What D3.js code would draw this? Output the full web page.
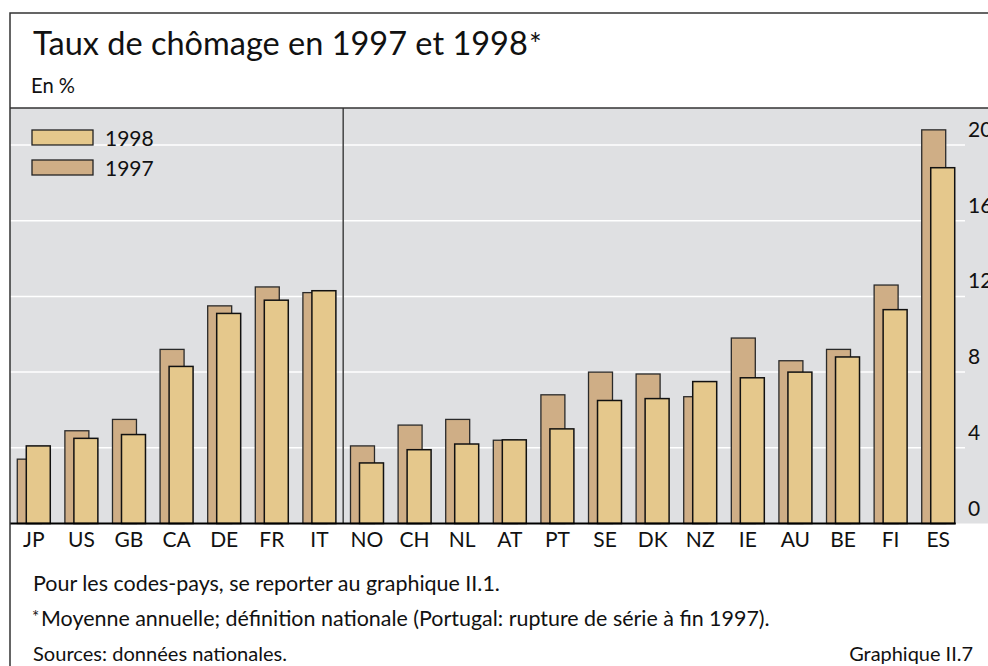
<!DOCTYPE html>
<html>
<head>
<meta charset="utf-8">
<script src="https://cdn.jsdelivr.net/npm/d3@7"></script>
<style>
  body { margin: 0; background: #fff; }
  svg { display: block; font-family: Lato, "Open Sans", sans-serif; }
</style>
</head>
<body>
<svg id="chart" width="988" height="666"></svg>
<script>
// données (taux de chômage, en %)
const countries = ["JP","US","GB","CA","DE","FR","IT","NO","CH","NL","AT","PT","SE","DK","NZ","IE","AU","BE","FI","ES"];
const values1997 = [3.4, 4.9, 5.5, 9.2, 11.5, 12.5, 12.2, 4.1, 5.2, 5.5, 4.4, 6.8, 8.0, 7.9, 6.7, 9.8, 8.6, 9.2, 12.6, 20.8];
const values1998 = [4.1, 4.5, 4.7, 8.3, 11.1, 11.8, 12.3, 3.2, 3.9, 4.2, 4.42, 5.0, 6.5, 6.6, 7.5, 7.7, 8.0, 8.8, 11.3, 18.8];
const yTicks = [0, 4, 8, 12, 16, 20];
const seriesNames = ["1998", "1997"];
const colors = { "1998": "#e5c88c", "1997": "#cfae86" };

const svg = d3.select("#chart");

// fit a text element to a given width by changing its font size
function fitText(sel, w) {
    const fs = parseFloat(sel.attr("font-size"));
    const len = sel.node().getComputedTextLength();
    sel.attr("font-size", (fs * w / len).toFixed(2));
}

const x = d3.scaleBand()
    .domain(countries)
    .range([10, 962])
    .paddingInner(0.307)
    .paddingOuter(0.153);

const y = d3.scaleLinear()
    .domain([0, 20])
    .range([523.5, 145]);

const bw = x.bandwidth();
const barW = bw * 0.727;
const shift = bw - barW;

// fond gris de la zone graphique
svg.append("rect")
    .attr("x", 10)
    .attr("y", 108)
    .attr("width", 990)
    .attr("height", y(0) - 108)
    .attr("fill", "#dfe0e2");

// lignes de grille
svg.append("g")
    .selectAll("line")
    .data(yTicks.filter(d => d > 0))
    .enter().append("line")
    .attr("x1", 10)
    .attr("x2", 965)
    .attr("y1", d => y(d))
    .attr("y2", d => y(d))
    .attr("stroke", "#fff")
    .attr("stroke-width", 1.5);

svg.append("g")
    .selectAll("text")
    .data(yTicks)
    .enter().append("text")
    .attr("x", 968)
    .attr("y", d => y(d) - 8)
    .attr("font-size", 21)
    .attr("fill", "#111")
    .text(d => d);

// séparateur vertical entre IT et NO
const sepX = (x("IT") + bw + x("NO")) / 2;
svg.append("line")
    .attr("x1", sepX)
    .attr("x2", sepX)
    .attr("y1", 108)
    .attr("y2", y(0))
    .attr("stroke", "#444")
    .attr("stroke-width", 1.5);

// barres 1997 (derrière)
svg.append("g")
    .selectAll("rect")
    .data(countries)
    .enter().append("rect")
    .attr("x", d => x(d))
    .attr("y", (d, i) => y(values1997[i]))
    .attr("width", barW)
    .attr("height", (d, i) => y(0) - y(values1997[i]))
    .attr("fill", colors["1997"])
    .attr("stroke", "#2a2a2a")
    .attr("stroke-width", 1.3);

// barres 1998 (devant)
svg.append("g")
    .selectAll("rect")
    .data(countries)
    .enter().append("rect")
    .attr("x", d => x(d) + shift)
    .attr("y", (d, i) => y(values1998[i]))
    .attr("width", barW)
    .attr("height", (d, i) => y(0) - y(values1998[i]))
    .attr("fill", colors["1998"])
    .attr("stroke", "#111")
    .attr("stroke-width", 1.5);

// ligne de base
svg.append("line")
    .attr("x1", 10)
    .attr("x2", x("ES") + bw + 1)
    .attr("y1", y(0))
    .attr("y2", y(0))
    .attr("stroke", "#000")
    .attr("stroke-width", 2.2);

// codes-pays
svg.append("g")
    .selectAll("text")
    .data(countries)
    .enter().append("text")
    .attr("x", d => x(d) + bw / 2)
    .attr("y", 547)
    .attr("text-anchor", "middle")
    .attr("font-size", 21)
    .attr("fill", "#111")
    .text(d => d);

// légende
const legend = svg.append("g")
    .selectAll("g")
    .data(seriesNames)
    .enter().append("g")
    .attr("transform", (d, i) => `translate(32, ${130 + i * 30})`);

legend.append("rect")
    .attr("width", 61)
    .attr("height", 15)
    .attr("fill", d => colors[d])
    .attr("stroke", "#222")
    .attr("stroke-width", 1.3);

legend.append("text")
    .attr("x", 73)
    .attr("y", 15.5)
    .attr("font-size", 21)
    .attr("fill", "#111")
    .text(d => d);

// cadre
svg.append("rect")
    .attr("x", 10)
    .attr("y", 13)
    .attr("width", 1000)
    .attr("height", 700)
    .attr("fill", "none")
    .attr("stroke", "#333")
    .attr("stroke-width", 1.5);

svg.append("line")
    .attr("x1", 10)
    .attr("x2", 988)
    .attr("y1", 108)
    .attr("y2", 108)
    .attr("stroke", "#333")
    .attr("stroke-width", 1.5);

// titres
const title = svg.append("text")
    .attr("x", 33)
    .attr("y", 55)
    .attr("font-size", 33)
    .attr("fill", "#111")
    .text("Taux de chômage en 1997 et 1998");
fitText(title, 495);

svg.append("text")
    .attr("x", 529)
    .attr("y", 55)
    .attr("font-size", 30)
    .attr("fill", "#111")
    .text("*");

const unit = svg.append("text")
    .attr("x", 31)
    .attr("y", 93)
    .attr("font-size", 19)
    .attr("fill", "#111")
    .text("En %");
fitText(unit, 44);

// notes
const note1 = svg.append("text")
    .attr("x", 33)
    .attr("y", 591)
    .attr("font-size", 18)
    .attr("fill", "#111")
    .text("Pour les codes-pays, se reporter au graphique II.1.");
fitText(note1, 467);

svg.append("text")
    .attr("x", 32)
    .attr("y", 623)
    .attr("font-size", 17)
    .attr("fill", "#111")
    .text("*");

const note2 = svg.append("text")
    .attr("x", 41)
    .attr("y", 626)
    .attr("font-size", 18)
    .attr("fill", "#111")
    .text("Moyenne annuelle; définition nationale (Portugal: rupture de série à fin 1997).");
fitText(note2, 729);

const note3 = svg.append("text")
    .attr("x", 33)
    .attr("y", 661)
    .attr("font-size", 18)
    .attr("fill", "#111")
    .text("Sources: données nationales.");
fitText(note3, 254);

const gr = svg.append("text")
    .attr("x", 973)
    .attr("y", 661)
    .attr("text-anchor", "end")
    .attr("font-size", 18)
    .attr("fill", "#111")
    .text("Graphique II.7");
fitText(gr, 124);
</script>
</body>
</html>
